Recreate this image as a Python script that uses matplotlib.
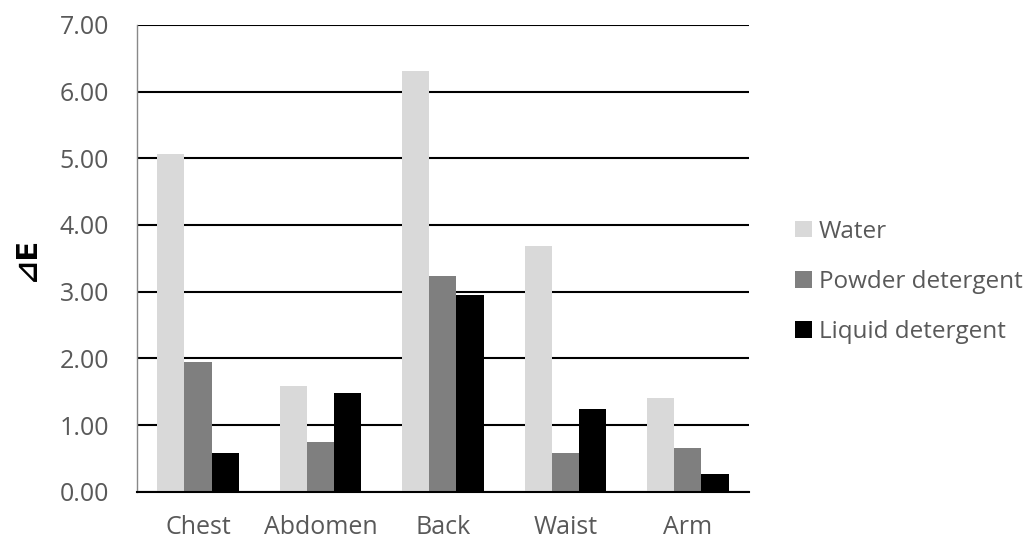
import matplotlib
matplotlib.use("Agg")
import matplotlib.pyplot as plt
import numpy as np

categories = ["Chest", "Abdomen", "Back", "Waist", "Arm"]
series_names = ["Water", "Powder detergent", "Liquid detergent"]
water = [5.07, 1.59, 6.31, 3.69, 1.41]
powder = [1.95, 0.74, 3.24, 0.58, 0.65]
liquid = [0.58, 1.48, 2.95, 1.24, 0.27]
y_ticks = [0, 1, 2, 3, 4, 5, 6, 7]

colors = ["#d9d9d9", "#7f7f7f", "#000000"]
text_color = "#595959"
plt.rcParams["font.family"] = ["Open Sans", "DejaVu Sans"]

fig = plt.figure(figsize=(10.36, 5.43), dpi=100)
ax = fig.add_axes([0.132, 0.0945, 0.591, 0.8595])

x = np.arange(len(categories))
w = 1 / 4.5
for i, (vals, name, c) in enumerate(zip([water, powder, liquid], series_names, colors)):
    ax.bar(x + (i - 1) * w, vals, width=w, color=c, label=name, zorder=3)

ax.set_xlim(-0.5, len(categories) - 0.5)
ax.set_ylim(0, 7)
ax.set_yticks(y_ticks)
ax.set_yticklabels([f"{v:.2f}" for v in y_ticks])
ax.set_xticks(x)
ax.set_xticklabels(categories)
ax.tick_params(axis="both", length=0, labelsize=18, colors=text_color)
ax.tick_params(axis="x", pad=17)
ax.tick_params(axis="y", pad=20)

ax.yaxis.grid(True, color="black", linewidth=1.5, zorder=0)
ax.set_axisbelow(True)
for s in ["top", "right"]:
    ax.spines[s].set_visible(False)
ax.spines["left"].set_color("#898989")
ax.spines["left"].set_linewidth(1.0)
ax.spines["bottom"].set_color("black")
ax.spines["bottom"].set_linewidth(1.5)
ax.spines["bottom"].set_zorder(4)

fig.text(0.026, 0.523, "\u22bfE", rotation=90, ha="center", va="center",
         fontsize=21, fontweight="bold", color="black",
         family=["DejaVu Sans"])

leg = fig.legend(loc="center left", bbox_to_anchor=(0.746, 0.481), frameon=False,
                 fontsize=17.5, handlelength=0.69, handleheight=0.69,
                 handletextpad=0.3, labelspacing=1.08)
for t in leg.get_texts():
    t.set_color(text_color)

fig.savefig("out.png", dpi=100)
